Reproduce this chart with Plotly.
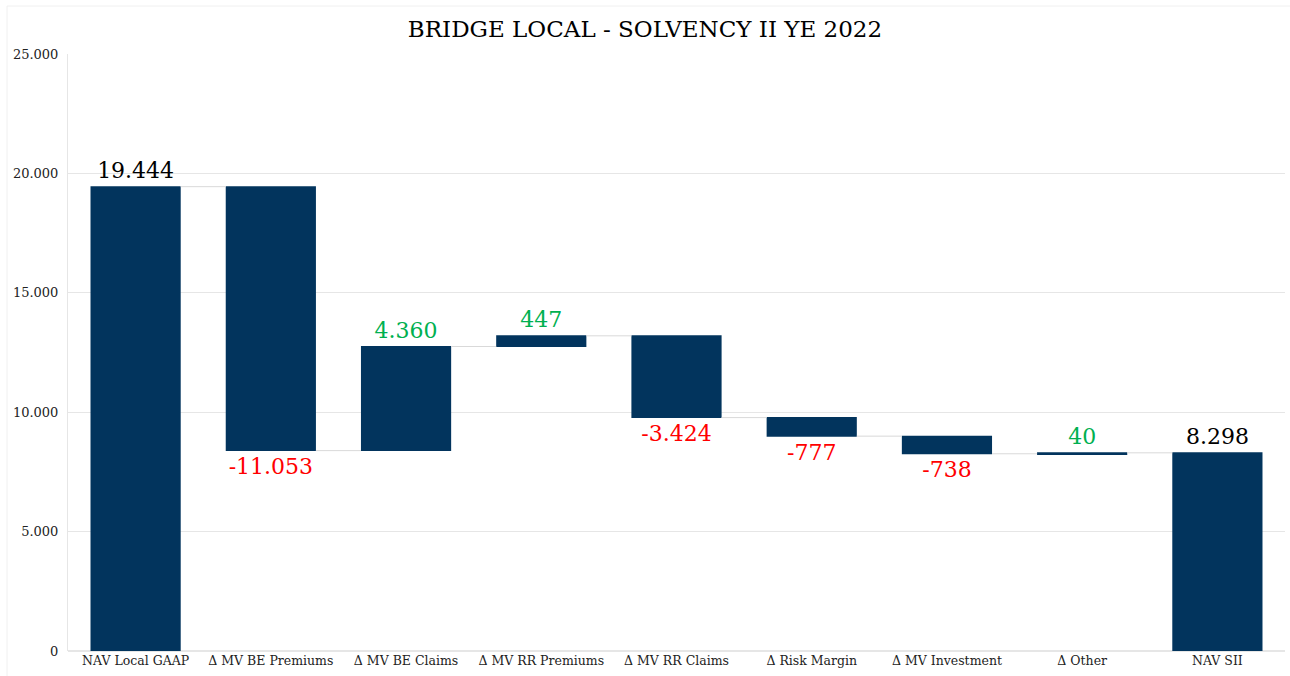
import plotly.graph_objects as go

categories = ["NAV Local GAAP", "Δ MV BE Premiums", "Δ MV BE Claims", "Δ MV RR Premiums",
              "Δ MV RR Claims", "Δ Risk Margin", "Δ MV Investment", "Δ Other", "NAV SII"]
values = [19444, -11053, 4360, 447, -3424, -777, -738, 40, 8298]
measures = ["absolute", "relative", "relative", "relative", "relative",
            "relative", "relative", "relative", "total"]
labels = ["19.444", "-11.053", "4.360", "447", "-3.424", "-777", "-738", "40", "8.298"]
label_colors = ["#000000", "#ff0000", "#00b050", "#00b050", "#ff0000",
                "#ff0000", "#ff0000", "#00b050", "#000000"]
y_ticks = [0, 5000, 10000, 15000, 20000, 25000]
y_ticktext = ["0", "5.000", "10.000", "15.000", "20.000", "25.000"]

BAR = "#02345d"
FONT = "DejaVu Serif, Liberation Serif, serif"

fig = go.Figure(go.Waterfall(
    x=categories,
    y=values,
    measure=measures,
    text=labels,
    textposition="outside",
    textfont=dict(color=label_colors, size=22, family=FONT),
    cliponaxis=False,
    increasing=dict(marker=dict(color=BAR, line=dict(width=0))),
    decreasing=dict(marker=dict(color=BAR, line=dict(width=0))),
    totals=dict(marker=dict(color=BAR, line=dict(width=0))),
    connector=dict(line=dict(color="#d9d9d9", width=1)),
    width=0.667,
))

fig.update_layout(
    width=1290, height=676,
    margin=dict(l=68, r=5, t=54, b=25),
    paper_bgcolor="white", plot_bgcolor="white",
    title=dict(text="BRIDGE LOCAL - SOLVENCY II YE 2022", x=0.5, xanchor="center",
               y=1 - 29 / 676, yanchor="middle",
               font=dict(family=FONT, size=23, color="#000000")),
    font=dict(family=FONT, color="#222222"),
    showlegend=False,
    bargap=0.333,
)
fig.update_xaxes(showgrid=False, showline=False, ticks="", tickfont=dict(size=12.5, color="#222222"))
fig.update_yaxes(range=[0, 25000], tickvals=y_ticks, ticktext=y_ticktext,
                 showgrid=True, gridcolor="#e6e6e6", gridwidth=1,
                 showline=True, linecolor="#e6e6e6", linewidth=1,
                 zeroline=True, zerolinecolor="#e6e6e6", ticks="",
                 tickfont=dict(size=13, color="#222222"), ticklabelstandoff=6)

# faint outer frame (top & left visible)
fig.add_shape(type="line", xref="paper", yref="paper", x0=-61/1217, x1=1.01, y0=645/597, y1=645/597,
              line=dict(color="#f0f0f0", width=1))
fig.add_shape(type="line", xref="paper", yref="paper", x0=-61/1217, x1=-61/1217, y0=-0.05, y1=645/597,
              line=dict(color="#f0f0f0", width=1))

fig.write_html("out.html")
